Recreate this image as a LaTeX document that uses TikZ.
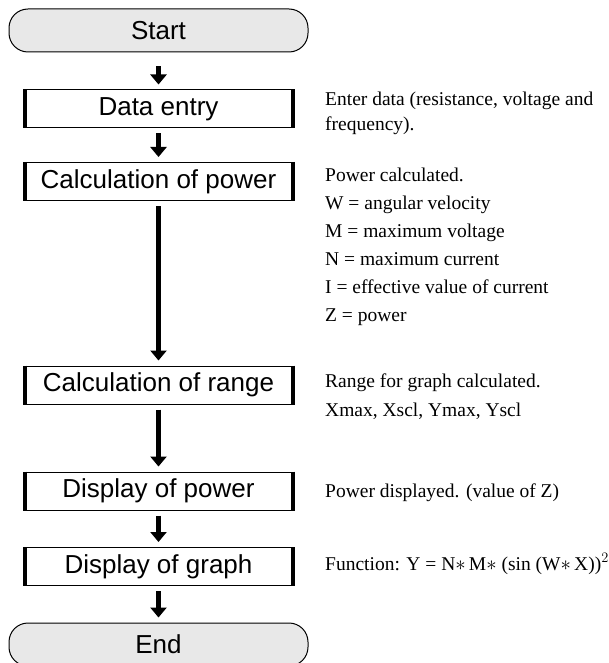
\documentclass[tikz,border=0pt]{standalone}
\usepackage{fontspec}
\setmainfont{Liberation Serif}
\newfontfamily\flowfont{Liberation Sans}
\usetikzlibrary{arrows.meta}
\definecolor{termgray}{gray}{0.91}

\begin{document}
\begin{tikzpicture}[x=1pt, y=-1pt,
	term/.style={draw, line width=1pt, fill=termgray, rounded corners=19pt, minimum width=299pt, minimum height=43pt, inner sep=0pt, font=\flowfont\fontsize{26}{30}\selectfont},
	proc/.style={draw, line width=1pt, minimum width=271pt, minimum height=38pt, inner sep=0pt, font=\flowfont\fontsize{26}{30}\selectfont},
	note/.style={anchor=base west, inner sep=0pt, font=\fontsize{19.5}{24}\selectfont},
	flow/.style={line width=4.5pt, -{Triangle[width=16pt, length=10pt]}, shorten <=5pt, shorten >=5pt}]
\clip (0, 0) rectangle (608, 663);
\node[term] (start) at (158.5, 30.5) {Start};
\node[proc] (entry) at (158.5, 109) {Data entry};
\node[proc] (power) at (158.5, 181.5) {Calculation of power};
\node[proc] (range) at (158.5, 385) {Calculation of range};
\node[proc] (dpower) at (158.5, 491) {Display of power};
\node[proc] (dgraph) at (158.5, 566.5) {Display of graph};
\node[term] (end) at (158.5, 644.5) {End};
\foreach \b in {entry, power, range, dpower, dgraph} {
	\draw[line width=4pt] ([xshift=2pt]\b.north west) -- ([xshift=2pt]\b.south west);
	\draw[line width=4pt] ([xshift=-2pt]\b.north east) -- ([xshift=-2pt]\b.south east);
}
\draw[flow, shorten <=14pt] (start) -- (entry);
\foreach \a/\b in {entry/power, power/range, range/dpower, dpower/dgraph, dgraph/end}
	\draw[flow] (\a) -- (\b);
\node[note] (enter1) at (325, 106) {Enter data (resistance, voltage and};
\node[note] (enter2) at (325, 131) {frequency).};
\foreach \t [count=\k] in {Power calculated., W = angular velocity, M = maximum voltage, N = maximum current, I = effective value of current, Z = power}
	\node[note] (calc\k) at ({325}, {153+28*\k}) {\t};
\node[note] (range1) at (325, 387) {Range for graph calculated.};
\node[note] (range2) at (325, 416) {Xmax, Xscl, Ymax, Yscl};
\node[note] (shown) at (325, 497) {Power displayed. (value of Z)};
\node[note] (func) at (325, 570) {Function: Y = N$\ast$\,M$\ast$ (sin (W$\ast$\,X))$^2$};
\end{tikzpicture}
\end{document}
